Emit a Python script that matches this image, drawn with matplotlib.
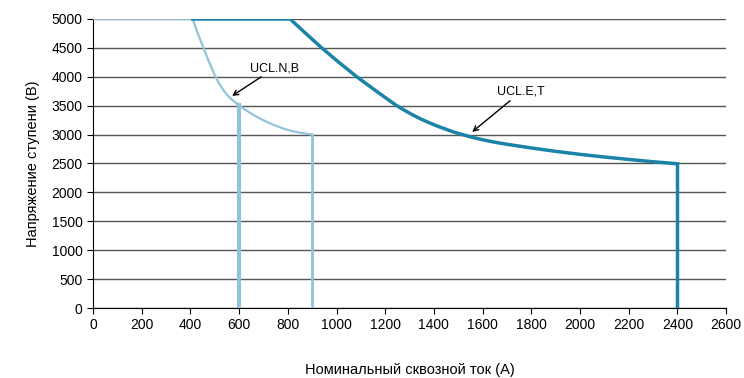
import matplotlib
matplotlib.use('Agg')
import matplotlib.pyplot as plt

plt.rcParams['font.family'] = ['Liberation Sans', 'DejaVu Sans']

# UCL.N,B (light curve)
nb_x = [0, 409, 432, 456, 478, 501, 513, 525, 537, 550, 563, 575, 588, 600,
        625, 650, 675, 700, 725, 750, 775, 800, 825, 850, 875, 900]
nb_y = [5000, 5000, 4730, 4475, 4240, 4020, 3920, 3835, 3760, 3690, 3632, 3588, 3545, 3505,
        3430, 3362, 3302, 3248, 3198, 3154, 3114, 3080, 3053, 3032, 3015, 3000]
nb_drops = [600, 900]

# UCL.E,T (dark curve)
et_x = [410, 809, 870, 939, 1010, 1083, 1165, 1247, 1280, 1310, 1345, 1380, 1415, 1450,
        1480, 1514, 1555, 1600, 1650, 1700, 1800, 1900, 2000, 2100, 2200, 2300, 2400]
et_y = [5000, 5000, 4763, 4500, 4248, 4000, 3746, 3500, 3418, 3346, 3272, 3206, 3145, 3091,
        3045, 3003, 2955, 2910, 2868, 2832, 2768, 2710, 2658, 2612, 2570, 2530, 2495]
et_drop = 2400

light = '#92c3da'
dark = '#1b83a8'

fig = plt.figure(figsize=(7.44, 3.78), dpi=100)
ax = fig.add_axes([0.125, 0.185, 0.851, 0.765])

ax.set_axisbelow(True)
ax.yaxis.grid(True, color='#555555', linewidth=1)

ax.plot(nb_x, nb_y, color=light, linewidth=1.6, zorder=3, solid_joinstyle='round')
ax.plot([nb_drops[0], nb_drops[0]], [0, nb_y[nb_x.index(600)]], color=light, linewidth=3, zorder=3)
ax.plot([nb_drops[1], nb_drops[1]], [0, nb_y[-1]], color=light, linewidth=2, zorder=3)

ax.plot(et_x, et_y, color=dark, linewidth=2.5, zorder=4, solid_joinstyle='round')
ax.plot([et_drop, et_drop], [0, et_y[-1]], color=dark, linewidth=2.5, zorder=4)

ax.annotate('UCL.N,B', xy=(571, 3668), xytext=(645, 4150), fontsize=9,
            arrowprops=dict(arrowstyle='->', color='black', lw=1, shrinkA=0, shrinkB=0),
            va='center', ha='left')
ax.annotate('UCL.E,T', xy=(1557, 3045), xytext=(1659, 3737), fontsize=9,
            arrowprops=dict(arrowstyle='->', color='black', lw=1, shrinkA=0, shrinkB=0),
            va='center', ha='left')

ax.set_xlim(0, 2600)
ax.set_ylim(0, 5000)
ax.set_xticks(range(0, 2601, 200))
ax.set_yticks(range(0, 5001, 500))
ax.tick_params(labelsize=10, direction='out', length=4, color='black')
ax.spines['top'].set_visible(False)
ax.spines['right'].set_visible(False)

ax.set_xlabel('Номинальный сквозной ток (A)', fontsize=10.5, labelpad=22)
ax.set_ylabel('Напряжение ступени (В)', fontsize=10.5, labelpad=8)

plt.savefig('out.png', dpi=100)
plt.close('all')
